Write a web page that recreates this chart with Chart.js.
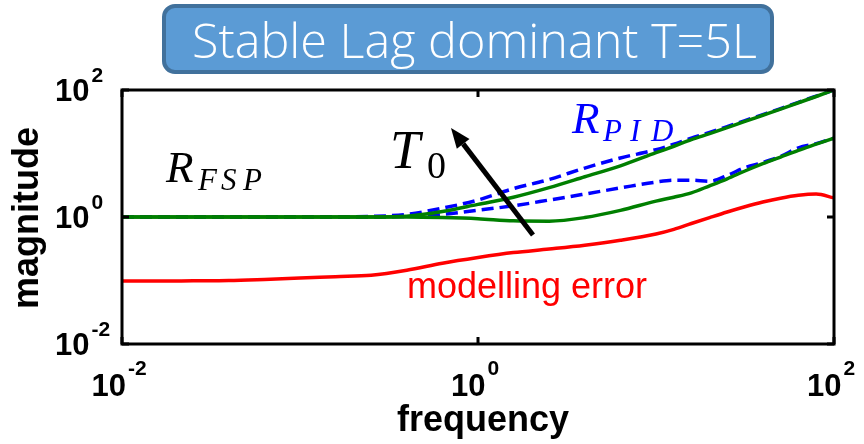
<!DOCTYPE html>
<html>
<head>
<meta charset="utf-8">
<script src="https://cdn.jsdelivr.net/npm/chart.js@4.4.0/dist/chart.umd.min.js"></script>
<style>
  html, body { margin: 0; padding: 0; background: #fff; }
  #wrap { width: 864px; height: 444px; }
</style>
</head>
<body>
<div id="wrap"><canvas id="chart" width="864" height="444"></canvas></div>
<script>
// frequency grid (log10 steps of 0.2, then 0.1 above 10)
const freq = [0.01, 0.0158, 0.0251, 0.0398, 0.0631, 0.1, 0.158, 0.251, 0.398, 0.631,
  1, 1.58, 2.51, 3.98, 6.31, 10, 12.6, 15.8, 20, 25.1, 31.6, 39.8, 50.1, 63.1, 79.4, 100];

// R_FSP, two values of T0 (solid green)
const fspHigh = [1, 1, 1, 1, 1, 1, 1, 1, 1.03, 1.22, 1.58, 2.05, 2.9, 4.3, 6.4,
  10.3, 13, 16.5, 20.5, 25.5, 32, 40, 50, 63, 79, 100];
const fspLow = [1, 1, 1, 1, 1, 1, 1, 1, 1, 0.98, 0.94, 0.87, 0.86, 0.98, 1.27,
  1.78, 2.05, 2.4, 3.1, 4.0, 5.3, 6.9, 8.8, 11.2, 14, 17.5];

// R_PID, same two T0 (dashed blue)
const pidHigh = [1, 1, 1, 1, 1, 1, 1, 1.02, 1.1, 1.38, 1.85, 2.8, 3.9, 5.9, 8.5,
  11.5, 14, 17.5, 21.5, 26.5, 33, 41, 51, 64, 80, 100];
const pidLow = [1, 1, 1, 1, 1, 1, 1, 1, 1.02, 1.1, 1.28, 1.5, 1.85, 2.3, 2.87,
  3.55, 3.8, 3.8, 3.65, 4.5, 6.0, 7.2, 9.0, 12.3, 14.3, 17.5];

// modelling error (red)
const modelErr = [0.098, 0.098, 0.099, 0.1, 0.104, 0.109, 0.115, 0.121, 0.145, 0.187,
  0.23, 0.275, 0.313, 0.36, 0.43, 0.54, 0.64, 0.79, 0.98, 1.2, 1.45, 1.72, 1.98, 2.2, 2.3, 2.0];

// axis ticks
const xTicks = [0.01, 1, 100];
const yTicks = [0.01, 1, 100];
const tickExps = ["-2", "0", "2"];

const TITLE = "Stable Lag dominant T=5L";

const pts = (arr) => freq.map((f, i) => ({ x: f, y: arr[i] }));

function line(ds, data, color, dashed) {
  return {
    label: ds,
    data: pts(data),
    borderColor: color,
    borderWidth: dashed ? 3.5 : 3.5,
    borderDash: dashed ? [12, 6] : [],
    pointRadius: 0,
    fill: false,
    cubicInterpolationMode: "monotone",
  };
}

function drawPow(ctx, exp, x, y, big, small, supDy, align) {
  ctx.font = `bold ${big}px "Liberation Sans", Arial, sans-serif`;
  const wb = ctx.measureText("10").width;
  ctx.font = `bold ${small}px "Liberation Sans", Arial, sans-serif`;
  const ws = ctx.measureText(exp).width;
  let left = x;
  if (align === "center") left = x - (wb + 2 + ws) / 2;
  ctx.textAlign = "left";
  ctx.textBaseline = "alphabetic";
  ctx.font = `bold ${big}px "Liberation Sans", Arial, sans-serif`;
  ctx.fillText("10", left, y);
  ctx.font = `bold ${small}px "Liberation Sans", Arial, sans-serif`;
  ctx.fillText(exp, left + wb + 2, y - supDy);
}

const decor = {
  id: "decor",
  beforeDraw(chart) {
    const { ctx } = chart;
    ctx.save();
    // title box
    ctx.beginPath();
    ctx.roundRect(164, 6, 608, 66, 11);
    ctx.fillStyle = "#5B9BD5";
    ctx.fill();
    ctx.lineWidth = 4;
    ctx.strokeStyle = "#41719C";
    ctx.stroke();
    ctx.fillStyle = "#fff";
    ctx.font = '300 48px "Open Sans", sans-serif';
    const w = ctx.measureText(TITLE).width;
    const size = 48 * 565 / w;
    ctx.font = `300 ${size}px "Open Sans", sans-serif`;
    ctx.textAlign = "left";
    ctx.textBaseline = "alphabetic";
    ctx.fillText(TITLE, 192, 58);
    ctx.restore();
  },
  afterDraw(chart) {
    const { ctx, chartArea: a, scales: { x, y } } = chart;
    ctx.save();
    ctx.fillStyle = "#000";
    ctx.strokeStyle = "#000";

    // frame + inside ticks
    ctx.lineWidth = 3;
    ctx.strokeRect(a.left, a.top, a.right - a.left, a.bottom - a.top);
    ctx.beginPath();
    xTicks.forEach((v) => {
      const px = x.getPixelForValue(v);
      ctx.moveTo(px, a.bottom); ctx.lineTo(px, a.bottom - 7);
      ctx.moveTo(px, a.top); ctx.lineTo(px, a.top + 7);
    });
    yTicks.forEach((v) => {
      const py = y.getPixelForValue(v);
      ctx.moveTo(a.left, py); ctx.lineTo(a.left + 7, py);
      ctx.moveTo(a.right, py); ctx.lineTo(a.right - 7, py);
    });
    ctx.stroke();

    // tick labels
    xTicks.forEach((v, i) => {
      drawPow(ctx, tickExps[i], x.getPixelForValue(v) - 3, 396, 31, 21, 21, "center");
    });
    yTicks.forEach((v, i) => {
      drawPow(ctx, tickExps[i], 55, y.getPixelForValue(v) + 11, 31, 21, 19, "left");
    });

    // axis titles
    ctx.font = 'bold 36px "Liberation Sans", Arial, sans-serif';
    ctx.textAlign = "center";
    ctx.fillText("frequency", 483, 431);
    ctx.save();
    ctx.translate(38, 218);
    ctx.rotate(-Math.PI / 2);
    ctx.fillText("magnitude", 0, 0);
    ctx.restore();

    // annotations
    ctx.textAlign = "left";
    ctx.font = 'italic 45px "Liberation Serif", serif';
    ctx.fillText("R", 166, 182);
    ctx.font = 'italic 31px "Liberation Serif", serif';
    ctx.fillText("F", 198, 190);
    ctx.fillText("S", 221, 190);
    ctx.fillText("P", 243, 190);

    ctx.fillStyle = "#0000FF";
    ctx.font = 'italic 45px "Liberation Serif", serif';
    ctx.fillText("R", 572, 133);
    ctx.font = 'italic 31px "Liberation Serif", serif';
    ctx.fillText("P", 603, 141);
    ctx.fillText("I", 630, 141);
    ctx.fillText("D", 651, 141);

    ctx.fillStyle = "#000";
    ctx.font = 'italic 54px "Liberation Serif", serif';
    ctx.fillText("T", 390, 168);
    ctx.font = '38px "Liberation Serif", serif';
    ctx.fillText("0", 427, 178);

    // arrow (T0 increasing)
    const tx = 533, ty = 235, hx = 451, hy = 128;
    const ang = Math.atan2(hy - ty, hx - tx);
    const hl = 20, hw = 8;
    const bx = hx - hl * Math.cos(ang), by = hy - hl * Math.sin(ang);
    ctx.lineWidth = 5;
    ctx.beginPath();
    ctx.moveTo(tx, ty);
    ctx.lineTo(bx, by);
    ctx.stroke();
    ctx.beginPath();
    ctx.moveTo(hx, hy);
    ctx.lineTo(bx + hw * Math.sin(ang), by - hw * Math.cos(ang));
    ctx.lineTo(bx - hw * Math.sin(ang), by + hw * Math.cos(ang));
    ctx.closePath();
    ctx.fill();

    ctx.fillStyle = "#FF0000";
    ctx.font = '36px "Liberation Sans", Arial, sans-serif';
    ctx.fillText("modelling error", 407, 298);
    ctx.restore();
  },
};

new Chart(document.getElementById("chart"), {
  type: "line",
  data: {
    datasets: [
      line("R_FSP high T0", fspHigh, "#007F00", false),
      line("R_FSP low T0", fspLow, "#007F00", false),
      line("R_PID high T0", pidHigh, "#0000FF", true),
      line("R_PID low T0", pidLow, "#0000FF", true),
      line("modelling error", modelErr, "#FF0000", false),
    ],
  },
  options: {
    responsive: false,
    animation: false,
    layout: { padding: { left: 122, right: 30, top: 90, bottom: 100 } },
    plugins: { legend: { display: false }, tooltip: { enabled: false } },
    scales: {
      x: { type: "logarithmic", min: 0.01, max: 100, display: false },
      y: { type: "logarithmic", min: 0.01, max: 100, display: false },
    },
  },
  plugins: [decor],
});
</script>
</body>
</html>
